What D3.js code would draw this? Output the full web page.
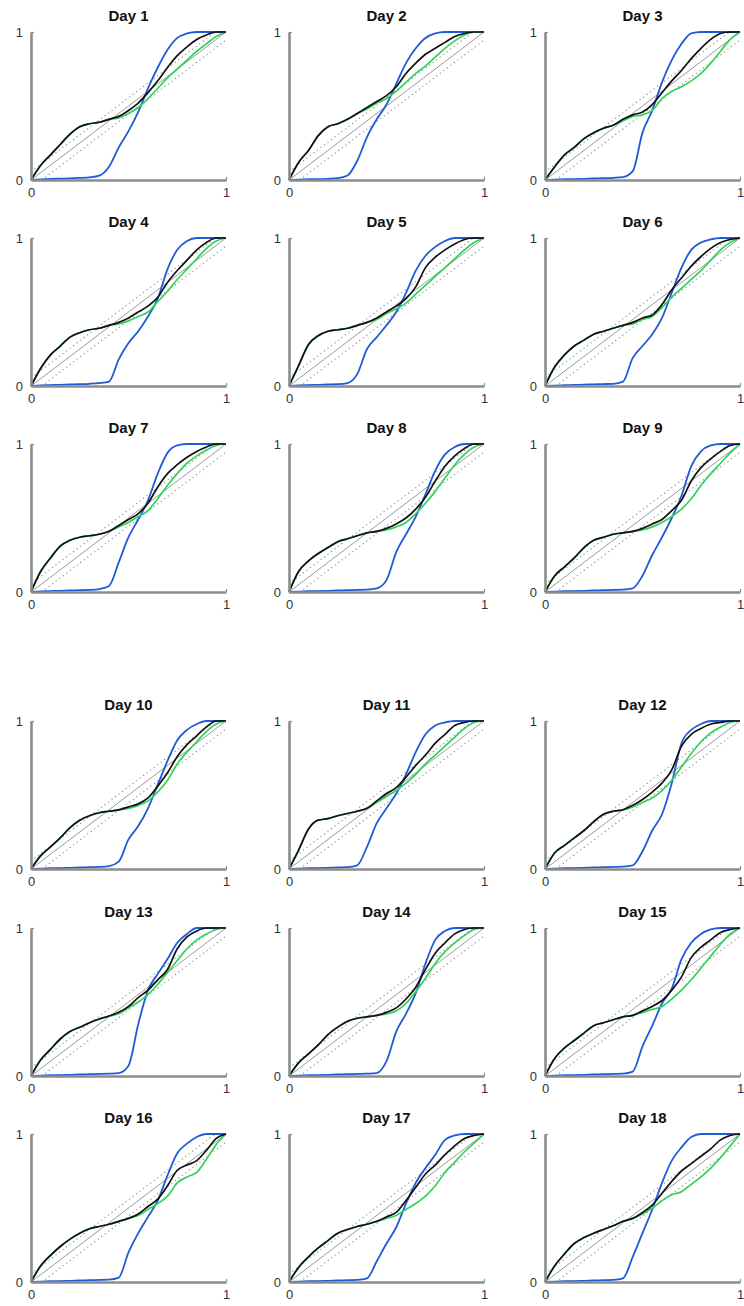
<!DOCTYPE html>
<html><head><meta charset="utf-8">
<script src="https://cdn.jsdelivr.net/npm/d3@7"></script>
<style>
html,body{margin:0;padding:0;background:#fff;}
svg{display:block;}
</style>
</head><body>
<script>
const xGrid = [0,0.05,0.1,0.15,0.2,0.25,0.3,0.35,0.4,0.45,0.5,0.55,0.6,0.65,0.7,0.75,0.8,0.85,0.9,0.95,1];
const days = ["Day 1","Day 2","Day 3","Day 4","Day 5","Day 6","Day 7","Day 8","Day 9","Day 10","Day 11","Day 12","Day 13","Day 14","Day 15","Day 16","Day 17","Day 18"];
const tickLabels = ["0","1"];
const bandHalfWidth = 0.055;

const blackSeries = [
[0,0.10,0.17,0.24,0.31,0.36,0.38,0.39,0.41,0.43,0.47,0.52,0.59,0.67,0.76,0.84,0.90,0.95,0.98,1,1],
[0,0.12,0.20,0.30,0.36,0.38,0.41,0.45,0.49,0.53,0.57,0.63,0.72,0.79,0.85,0.89,0.93,0.97,0.99,1,1],
[0,0.09,0.17,0.22,0.28,0.32,0.35,0.37,0.41,0.44,0.46,0.51,0.59,0.67,0.74,0.82,0.89,0.95,0.99,1,1],
[0,0.12,0.21,0.27,0.33,0.36,0.38,0.39,0.41,0.43,0.46,0.50,0.54,0.60,0.70,0.78,0.85,0.92,0.97,1,1],
[0,0.14,0.28,0.34,0.37,0.38,0.39,0.41,0.43,0.46,0.50,0.54,0.59,0.67,0.80,0.87,0.92,0.96,0.99,1,1],
[0,0.13,0.21,0.27,0.31,0.35,0.37,0.39,0.41,0.43,0.46,0.48,0.55,0.65,0.73,0.81,0.875,0.93,0.97,0.99,1],
[0,0.14,0.23,0.31,0.35,0.37,0.38,0.39,0.41,0.45,0.49,0.53,0.60,0.71,0.80,0.86,0.91,0.95,0.98,1,1],
[0,0.14,0.21,0.26,0.30,0.34,0.36,0.38,0.40,0.41,0.43,0.46,0.50,0.56,0.64,0.75,0.85,0.92,0.97,1,1],
[0,0.11,0.17,0.23,0.30,0.35,0.37,0.39,0.40,0.41,0.43,0.46,0.49,0.55,0.62,0.75,0.84,0.90,0.95,0.99,1],
[0,0.09,0.15,0.21,0.28,0.33,0.36,0.38,0.39,0.40,0.42,0.44,0.48,0.56,0.65,0.76,0.84,0.90,0.96,1,1],
[0,0.13,0.27,0.33,0.34,0.36,0.375,0.39,0.41,0.46,0.51,0.55,0.62,0.70,0.77,0.85,0.91,0.97,0.99,1,1],
[0,0.11,0.16,0.21,0.26,0.32,0.37,0.39,0.40,0.43,0.47,0.52,0.58,0.67,0.83,0.91,0.95,0.98,0.99,1,1],
[0,0.11,0.18,0.25,0.30,0.33,0.36,0.385,0.405,0.43,0.47,0.53,0.58,0.65,0.72,0.86,0.94,0.98,1,1,1],
[0,0.09,0.15,0.21,0.28,0.33,0.37,0.39,0.40,0.41,0.43,0.46,0.52,0.60,0.72,0.83,0.90,0.96,0.99,1,1],
[0,0.12,0.19,0.24,0.29,0.34,0.36,0.38,0.40,0.41,0.44,0.47,0.51,0.58,0.67,0.80,0.87,0.92,0.97,0.99,1],
[0,0.11,0.18,0.24,0.29,0.33,0.36,0.375,0.39,0.41,0.43,0.46,0.51,0.56,0.65,0.755,0.79,0.82,0.89,0.97,1],
[0,0.10,0.17,0.23,0.28,0.33,0.355,0.375,0.39,0.41,0.44,0.47,0.55,0.64,0.73,0.79,0.86,0.92,0.97,0.99,1],
[0,0.11,0.19,0.26,0.30,0.33,0.355,0.38,0.41,0.43,0.47,0.52,0.60,0.68,0.75,0.80,0.85,0.90,0.96,0.99,1]
];

const greenSeries = [
[0,0.10,0.17,0.24,0.31,0.36,0.38,0.39,0.41,0.42,0.45,0.49,0.55,0.62,0.69,0.75,0.81,0.87,0.92,0.97,1],
[0,0.12,0.20,0.30,0.36,0.38,0.41,0.45,0.48,0.52,0.55,0.60,0.66,0.72,0.77,0.83,0.89,0.94,0.98,1,1],
[0,0.09,0.17,0.22,0.28,0.32,0.35,0.37,0.40,0.43,0.44,0.47,0.55,0.60,0.63,0.67,0.72,0.79,0.87,0.95,1],
[0,0.12,0.21,0.27,0.33,0.36,0.38,0.39,0.41,0.42,0.44,0.47,0.50,0.57,0.64,0.72,0.79,0.86,0.93,0.98,1],
[0,0.14,0.28,0.34,0.37,0.38,0.39,0.41,0.43,0.45,0.49,0.52,0.56,0.62,0.68,0.74,0.80,0.86,0.92,0.97,1],
[0,0.13,0.21,0.27,0.31,0.35,0.37,0.39,0.41,0.42,0.45,0.47,0.53,0.60,0.66,0.72,0.78,0.85,0.92,0.97,1],
[0,0.14,0.23,0.31,0.35,0.37,0.38,0.39,0.41,0.44,0.47,0.51,0.55,0.63,0.72,0.80,0.87,0.92,0.96,0.99,1],
[0,0.14,0.21,0.26,0.30,0.34,0.36,0.38,0.40,0.41,0.42,0.44,0.47,0.53,0.60,0.68,0.77,0.86,0.93,0.98,1],
[0,0.11,0.17,0.23,0.30,0.35,0.37,0.39,0.40,0.41,0.42,0.44,0.47,0.51,0.56,0.63,0.72,0.80,0.87,0.94,1],
[0,0.09,0.15,0.21,0.28,0.33,0.36,0.38,0.39,0.40,0.41,0.43,0.46,0.52,0.60,0.71,0.79,0.86,0.93,0.98,1],
[0,0.13,0.27,0.33,0.34,0.36,0.375,0.39,0.41,0.45,0.49,0.53,0.58,0.64,0.71,0.77,0.83,0.89,0.95,0.99,1],
[0,0.11,0.16,0.21,0.26,0.32,0.37,0.39,0.40,0.42,0.45,0.48,0.53,0.60,0.69,0.78,0.86,0.92,0.96,0.99,1],
[0,0.11,0.18,0.25,0.30,0.33,0.36,0.385,0.405,0.42,0.46,0.50,0.55,0.62,0.70,0.78,0.86,0.92,0.96,0.99,1],
[0,0.09,0.15,0.21,0.28,0.33,0.37,0.39,0.40,0.41,0.42,0.44,0.49,0.57,0.66,0.76,0.84,0.90,0.95,0.99,1],
[0,0.12,0.19,0.24,0.29,0.34,0.36,0.38,0.40,0.41,0.43,0.45,0.47,0.52,0.58,0.65,0.73,0.81,0.89,0.96,1],
[0,0.11,0.18,0.24,0.29,0.33,0.36,0.375,0.39,0.41,0.43,0.45,0.49,0.53,0.58,0.67,0.71,0.74,0.83,0.93,1],
[0,0.10,0.17,0.23,0.28,0.33,0.355,0.375,0.39,0.41,0.43,0.45,0.49,0.53,0.58,0.65,0.74,0.81,0.88,0.94,1],
[0,0.11,0.19,0.26,0.30,0.33,0.355,0.38,0.41,0.43,0.46,0.50,0.55,0.59,0.61,0.66,0.71,0.77,0.84,0.92,1]
];

const blueSeries = [
[0,0.004,0.007,0.009,0.011,0.014,0.018,0.03,0.09,0.22,0.33,0.46,0.62,0.76,0.88,0.96,0.99,1,1,1,1],
[0,0.003,0.005,0.006,0.008,0.012,0.03,0.13,0.29,0.41,0.51,0.65,0.79,0.89,0.96,0.99,1,1,1,1,1],
[0,0.003,0.005,0.006,0.008,0.01,0.012,0.015,0.02,0.06,0.32,0.47,0.66,0.81,0.92,0.99,1,1,1,1,1],
[0,0.004,0.006,0.008,0.01,0.012,0.015,0.02,0.03,0.18,0.29,0.37,0.47,0.59,0.79,0.92,0.98,1,1,1,1],
[0,0.004,0.006,0.008,0.01,0.012,0.02,0.08,0.25,0.33,0.41,0.50,0.63,0.78,0.88,0.94,0.98,1,1,1,1],
[0,0.003,0.005,0.007,0.009,0.011,0.013,0.015,0.03,0.19,0.27,0.35,0.46,0.63,0.80,0.92,0.97,0.99,1,1,1],
[0,0.004,0.006,0.008,0.01,0.012,0.014,0.02,0.04,0.20,0.37,0.49,0.62,0.80,0.94,0.99,1,1,1,1,1],
[0,0.003,0.005,0.006,0.008,0.01,0.012,0.014,0.016,0.025,0.08,0.27,0.39,0.51,0.66,0.82,0.93,0.98,1,1,1],
[0,0.003,0.005,0.006,0.008,0.01,0.012,0.014,0.016,0.025,0.11,0.25,0.37,0.50,0.65,0.85,0.95,0.99,1,1,1],
[0,0.003,0.005,0.006,0.008,0.01,0.012,0.014,0.02,0.05,0.20,0.29,0.41,0.57,0.73,0.87,0.94,0.98,1,1,1],
[0,0.003,0.005,0.006,0.008,0.01,0.012,0.025,0.15,0.31,0.41,0.51,0.64,0.79,0.91,0.97,0.99,1,1,1,1],
[0,0.003,0.005,0.006,0.008,0.01,0.012,0.014,0.016,0.025,0.12,0.26,0.37,0.58,0.85,0.94,0.98,1,1,1,1],
[0,0.003,0.005,0.006,0.008,0.01,0.012,0.014,0.016,0.02,0.07,0.35,0.58,0.69,0.79,0.90,0.96,1,1,1,1],
[0,0.003,0.005,0.006,0.008,0.01,0.012,0.014,0.016,0.02,0.10,0.30,0.42,0.56,0.76,0.92,0.98,1,1,1,1],
[0,0.003,0.005,0.006,0.008,0.01,0.012,0.014,0.016,0.03,0.20,0.34,0.49,0.59,0.79,0.90,0.96,0.99,1,1,1],
[0,0.003,0.005,0.006,0.008,0.01,0.012,0.014,0.016,0.03,0.20,0.33,0.44,0.55,0.72,0.87,0.935,0.98,1,1,1],
[0,0.003,0.005,0.006,0.008,0.01,0.012,0.014,0.025,0.14,0.26,0.37,0.53,0.67,0.77,0.86,0.96,0.99,1,1,1],
[0,0.003,0.005,0.006,0.008,0.01,0.012,0.014,0.025,0.17,0.33,0.49,0.67,0.82,0.91,0.98,1,1,1,1,1]
];

// layout
const W = 744, H = 1306;
const colX = [31, 289, 545];
const rowY = [32, 238, 444, 721, 928, 1134];
const pw = 195, ph = 148;

const svg = d3.select("body").append("svg").attr("width", W).attr("height", H);

const colors = {black:"#111111", green:"#2fd35a", blue:"#1f5ad8"};

days.forEach((day, i) => {
  const r = Math.floor(i/3), c = i % 3;
  const g = svg.append("g").attr("transform", `translate(${colX[c]},${rowY[r]})`);
  const x = d3.scaleLinear().domain([0,1]).range([0,pw]);
  const y = d3.scaleLinear().domain([0,1]).range([ph,0]);
  const line = d3.line().x(d=>x(d[0])).y(d=>y(d[1])).curve(d3.curveMonotoneX);
  const straight = d3.line().x(d=>x(d[0])).y(d=>y(d[1]));

  // confidence bands (dotted)
  const upper = [[0,bandHalfWidth],[1-bandHalfWidth,1]];
  const lower = [[bandHalfWidth,0],[1,1-bandHalfWidth]];
  [upper, lower].forEach(seg => {
    g.append("path").attr("d", straight(seg))
      .attr("fill","none").attr("stroke","#8a8a8a").attr("stroke-width",1.1)
      .attr("stroke-dasharray","1.2,3.2");
  });
  // diagonal
  g.append("path").attr("d", straight([[0,0],[1,1]]))
    .attr("fill","none").attr("stroke","#9a9a9a").attr("stroke-width",1);

  const mk = arr => xGrid.map((xv,k)=>[xv, arr[k]]);
  g.append("path").attr("d", line(mk(blueSeries[i]))).attr("fill","none")
    .attr("stroke",colors.blue).attr("stroke-width",1.8);
  g.append("path").attr("d", line(mk(greenSeries[i]))).attr("fill","none")
    .attr("stroke",colors.green).attr("stroke-width",1.7);
  g.append("path").attr("d", line(mk(blackSeries[i]))).attr("fill","none")
    .attr("stroke",colors.black).attr("stroke-width",1.7);

  // axes
  const ax = g.append("g").attr("transform",`translate(0,${ph})`)
    .call(d3.axisBottom(x).tickValues([0,1]).tickFormat((d,k)=>tickLabels[k]).tickSizeInner(-3).tickSizeOuter(0).tickPadding(8));
  const ay = g.append("g")
    .call(d3.axisLeft(y).tickValues([0,1]).tickFormat((d,k)=>tickLabels[k]).tickSizeInner(-3).tickSizeOuter(0).tickPadding(8));
  [ax, ay].forEach(a => {
    a.select(".domain").attr("stroke","#8c8c8c").attr("stroke-width",2.6);
    a.selectAll(".tick line").attr("stroke","#8c8c8c").attr("stroke-width",1.2);
    a.selectAll(".tick text").attr("fill","#333").style("font-family","'Liberation Sans', Arial, sans-serif").style("font-size","13px");
  });

  g.append("text").attr("x", pw/2).attr("y", -11).attr("text-anchor","middle")
    .style("font-family","'Liberation Sans', Arial, sans-serif").style("font-weight","bold").style("font-size","15px")
    .attr("fill","#111").text(day);
});
</script>
</body></html>
